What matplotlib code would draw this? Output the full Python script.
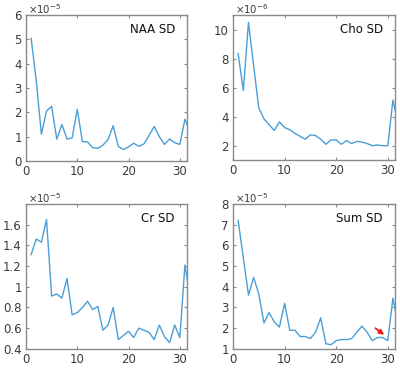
import numpy as np
import matplotlib.pyplot as plt
from matplotlib.ticker import FuncFormatter

# x = index 1..32 (last one is cut by the axis limit)
x = np.arange(1, 33)

naa_sd = np.array([5.05, 3.3, 1.1, 2.05, 2.25, 0.9, 1.5, 0.9, 0.95, 2.12,
                   0.8, 0.78, 0.55, 0.52, 0.65, 0.88, 1.45, 0.6, 0.47, 0.58,
                   0.73, 0.6, 0.7, 1.05, 1.42, 1.0, 0.68, 0.9, 0.75, 0.68,
                   1.72, 1.2]) * 1e-5
cho_sd = np.array([8.35, 5.8, 10.5, 7.5, 4.6, 3.85, 3.45, 3.05, 3.65, 3.25,
                   3.1, 2.85, 2.65, 2.45, 2.75, 2.7, 2.45, 2.1, 2.4, 2.4,
                   2.1, 2.35, 2.15, 2.3, 2.25, 2.15, 2.0, 2.05, 2.0, 2.0,
                   5.15, 3.5]) * 1e-6
cr_sd = np.array([1.31, 1.46, 1.43, 1.65, 0.91, 0.93, 0.89, 1.08, 0.73, 0.75,
                  0.80, 0.86, 0.78, 0.81, 0.58, 0.63, 0.80, 0.49, 0.53, 0.57,
                  0.51, 0.60, 0.58, 0.56, 0.49, 0.63, 0.52, 0.46, 0.63, 0.51,
                  1.21, 0.9]) * 1e-5
sum_sd = np.array([7.2, 5.4, 3.6, 4.45, 3.65, 2.25, 2.75, 2.3, 2.05, 3.2,
                   1.9, 1.9, 1.6, 1.6, 1.5, 1.8, 2.5, 1.25, 1.2, 1.4,
                   1.45, 1.45, 1.5, 1.8, 2.1, 1.8, 1.4, 1.55, 1.55, 1.4,
                   3.45, 2.2]) * 1e-5

panels = [
    # title, data, scale, exponent, ylim, yticks, axes rect
    ("NAA SD", naa_sd, 1e-5, -5, (0, 6), [0, 1, 2, 3, 4, 5, 6], [0.065, 0.565, 0.4025, 0.394]),
    ("Cho SD", cho_sd, 1e-6, -6, (1, 11), [2, 4, 6, 8, 10], [0.5825, 0.567, 0.405, 0.392]),
    ("Cr SD", cr_sd, 1e-5, -5, (0.4, 1.8), [0.4, 0.6, 0.8, 1, 1.2, 1.4, 1.6], [0.065, 0.057, 0.4025, 0.392]),
    ("Sum SD", sum_sd, 1e-5, -5, (1, 8), [1, 2, 3, 4, 5, 6, 7, 8], [0.5825, 0.057, 0.405, 0.392]),
]

line_col = "#4a9fd8"
axis_col = "#8a8a8a"
text_col = "#3a3a3a"

fig = plt.figure(figsize=(4, 3.7), dpi=100)

for title, y, scale, expo, ylim, yticks, rect in panels:
    ax = fig.add_axes(rect)
    ax.plot(x, y, color=line_col, lw=1.0)
    ax.set_xlim(0, 31.4)
    ax.set_ylim(ylim[0] * scale, ylim[1] * scale)
    ax.set_xticks([0, 10, 20, 30])
    ax.set_yticks([t * scale for t in yticks])
    ax.yaxis.set_major_formatter(FuncFormatter(lambda v, p, s=scale: "%g" % round(v / s, 3)))
    ax.tick_params(direction="in", length=2.5, width=0.8, top=True, right=True,
                   colors=axis_col, labelcolor=text_col, labelsize=8.5, pad=3)
    for sp in ax.spines.values():
        sp.set_color(axis_col)
        sp.set_linewidth(1.0)
    ax.text(0.925, 0.9, title, transform=ax.transAxes, ha="right", va="center",
            fontsize=8.5, color="#111111")
    # exponent label, MATLAB style above the y axis
    ax.text(0.01, 0.995, r"$\times10^{%d}$" % expo, transform=ax.transAxes,
            ha="left", va="bottom", fontsize=7.3, color=text_col)
    if title == "Sum SD":
        ax.annotate("", xy=(29.3, 1.68 * scale), xytext=(27.6, 2.0 * scale),
                    arrowprops=dict(arrowstyle="-|>", color="#e8191a", lw=1.3,
                                    mutation_scale=7, shrinkA=0, shrinkB=0))

fig.savefig("out.png", dpi=100)
